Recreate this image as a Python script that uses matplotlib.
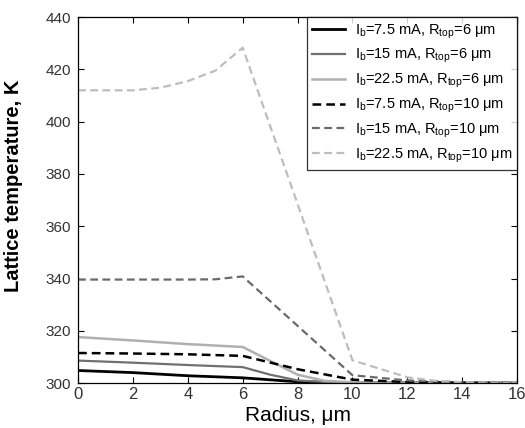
import matplotlib
matplotlib.use("Agg")
import matplotlib.pyplot as plt

plt.rcParams['font.family'] = ['Liberation Sans', 'DejaVu Sans']
plt.rcParams['mathtext.fontset'] = 'custom'
plt.rcParams['mathtext.rm'] = 'Liberation Sans'
plt.rcParams['mathtext.it'] = 'Liberation Sans'

# Data (radius in um, temperature in K)
r_a = [0, 2, 4, 6, 8, 10, 12, 14, 16]
t_75_6 = [304.8, 304.0, 302.8, 302.0, 300.5, 300.2, 300.1, 300.0, 300.0]

r_b = [0, 2, 4, 6, 7, 8, 9, 10, 12, 14, 16]
t_15_6 = [308.6, 307.8, 306.9, 306.1, 303.2, 301.0, 300.4, 300.2, 300.1, 300.0, 300.0]
t_225_6 = [317.6, 316.3, 314.9, 313.8, 308.5, 303.2, 300.8, 300.3, 300.1, 300.0, 300.0]

r_c = [0, 2, 4, 6, 8, 10, 12, 14, 16]
t_75_10 = [311.5, 311.3, 311.0, 310.4, 305.3, 301.3, 300.4, 300.1, 300.0]

r_d = [0, 2, 4, 5, 6, 10, 12, 14, 16]
t_15_10 = [339.6, 339.6, 339.6, 339.7, 340.8, 303.0, 301.0, 300.3, 300.0]

r_e = [0, 1, 2, 3, 4, 5, 6, 10, 12, 13, 14, 16]
t_225_10 = [412.0, 412.0, 412.0, 413.0, 415.5, 419.5, 428.3, 308.7, 302.2, 300.9, 300.3, 300.0]

labels = [
    r"I$_{\mathrm{b}}$=7.5 mA, R$_{\mathrm{top}}$=6 μm",
    r"I$_{\mathrm{b}}$=15 mA, R$_{\mathrm{top}}$=6 μm",
    r"I$_{\mathrm{b}}$=22.5 mA, R$_{\mathrm{top}}$=6 μm",
    r"I$_{\mathrm{b}}$=7.5 mA, R$_{\mathrm{top}}$=10 μm",
    r"I$_{\mathrm{b}}$=15 mA, R$_{\mathrm{top}}$=10 μm",
    r"I$_{\mathrm{b}}$=22.5 mA, R$_{\mathrm{top}}$=10 μm",
]

fig = plt.figure(figsize=(5.25, 4.28), dpi=100)
ax = fig.add_axes([0.1486, 0.105, 0.8364, 0.855])

ax.plot(r_a, t_75_6, color='black', lw=2.0, ls='-', label=labels[0])
ax.plot(r_b, t_15_6, color='#707070', lw=1.6, ls='-', label=labels[1])
ax.plot(r_b, t_225_6, color='#b0b0b0', lw=1.8, ls='-', label=labels[2])
ax.plot(r_c, t_75_10, color='black', lw=1.8, ls=(0, (3.5, 2)), label=labels[3])
ax.plot(r_d, t_15_10, color='#6a6a6a', lw=1.6, ls=(0, (3.5, 2)), label=labels[4])
ax.plot(r_e, t_225_10, color='#bdbdbd', lw=1.6, ls=(0, (3.5, 2)), label=labels[5])

ax.set_xlim(0, 16)
ax.set_ylim(300, 440)
ax.set_xticks(range(0, 17, 2))
ax.set_yticks(range(300, 441, 20))
ax.tick_params(direction='in', length=4, labelcolor='#333333',
               top=True, right=True, width=0.8)
ax.tick_params(axis='y', labelsize=11, pad=5)
ax.tick_params(axis='x', labelsize=12, pad=3)
for s in ax.spines.values():
    s.set_linewidth(0.9)

ax.set_xlabel("Radius, μm", fontsize=15)
ax.xaxis.set_label_coords(0.5, -0.063)
ax.set_ylabel("Lattice temperature, K", fontsize=14.5, fontweight='bold')
ax.yaxis.set_label_coords(-0.125, 0.54)

leg = ax.legend(loc='upper right', fontsize=10.5, frameon=True, fancybox=False,
                edgecolor='black', borderaxespad=0, handlelength=2.2,
                labelspacing=0.45, borderpad=0.35, handletextpad=0.7)
leg.get_frame().set_linewidth(0.9)

fig.savefig("out.png", dpi=100)
